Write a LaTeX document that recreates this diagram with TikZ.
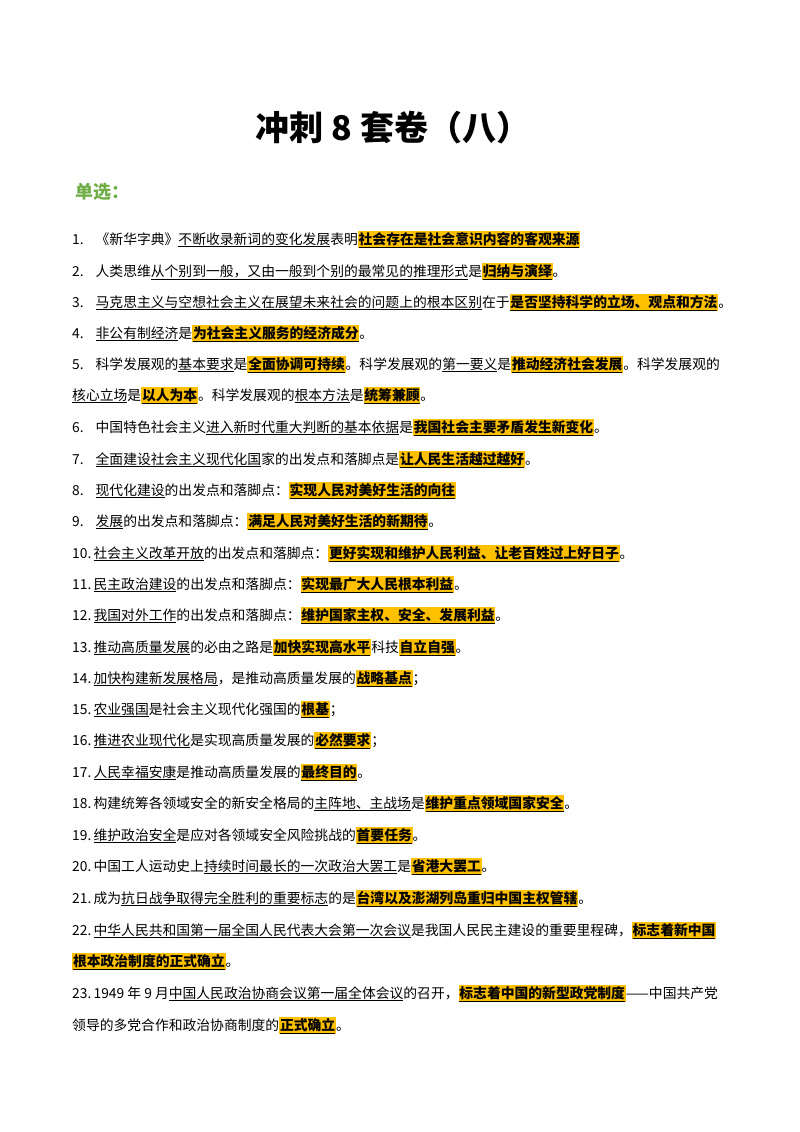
\documentclass[tikz,border=0pt]{standalone}
\usepackage{fontspec}
\setmainfont{Noto Sans CJK SC}
\definecolor{hl}{HTML}{FFC000}
\definecolor{grn}{HTML}{70AD47}
\newcommand{\ulx}[1]{\underline{#1}}
\newcommand{\hlt}[1]{{\setlength{\fboxsep}{0.8pt}\colorbox{hl}{\bfseries\underline{#1}}}}
\begin{document}
\begin{tikzpicture}[x=1pt,y=-1pt,
  ln/.style={anchor=base west,inner sep=0pt,font=\fontsize{13.8}{15}\selectfont}]
\useasboundingbox (0,0) rectangle (800,1132);
\node[font=\fontsize{34}{36}\bfseries] (title) at (393,128) {冲刺 8 套卷（八）};
\node[anchor=west,text=grn,font=\fontsize{18}{20}\bfseries] (dx) at (72,192) {单选：};
\node[ln] (n1) at (72,244) {1.\hspace{12pt}《新华字典》\ulx{不断收录新词的变化发展}表明\hlt{社会存在是社会意识内容的客观来源}};
\node[ln] (n2) at (72,276) {2.\hspace{12pt}人类思维\ulx{从个别到一般，又由一般到个别的最常见的推理形式}是\hlt{归纳与演绎}。};
\node[ln] (n3) at (72,307) {3.\hspace{12pt}\ulx{马克思主义与空想社会主义在展望未来社会的问题上的根本区别}在于\hlt{是否坚持科学的立场、观点和方法}。};
\node[ln] (n4) at (72,338) {4.\hspace{12pt}\ulx{非公有制经济}是\hlt{为社会主义服务的经济成分}。};
\node[ln] (n5) at (72,369) {5.\hspace{12pt}科学发展观的\ulx{基本要求}是\hlt{全面协调可持续}。科学发展观的\ulx{第一要义}是\hlt{推动经济社会发展}。科学发展观的};
\node[ln] (n5b) at (72,400) {\ulx{核心立场}是\hlt{以人为本}。科学发展观的\ulx{根本方法}是\hlt{统筹兼顾}。};
\node[ln] (n6) at (72,432) {6.\hspace{12pt}中国特色社会主义\ulx{进入新时代重大判断的基本依据}是\hlt{我国社会主要矛盾发生新变化}。};
\node[ln] (n7) at (72,464) {7.\hspace{12pt}\ulx{全面建设社会主义现代化国}家的出发点和落脚点是\hlt{让人民生活越过越好}。};
\node[ln] (n8) at (72,495) {8.\hspace{12pt}\ulx{现代化建设}的出发点和落脚点：\hlt{实现人民对美好生活的向往}};
\node[ln] (n9) at (72,526) {9.\hspace{12pt}\ulx{发展}的出发点和落脚点：\hlt{满足人民对美好生活的新期待}。};
\node[ln] (n10) at (72,558) {10.\,\ulx{社会主义改革开放}的出发点和落脚点：\hlt{更好实现和维护人民利益、让老百姓过上好日子}。};
\node[ln] (n11) at (72,589) {11.\,\ulx{民主政治建设}的出发点和落脚点：\hlt{实现最广大人民根本利益}。};
\node[ln] (n12) at (72,620) {12.\,\ulx{我国对外工作}的出发点和落脚点：\hlt{维护国家主权、安全、发展利益}。};
\node[ln] (n13) at (72,652) {13.\,\ulx{推动高质量发展}的必由之路是\hlt{加快实现高水平}科技\hlt{自立自强}。};
\node[ln] (n14) at (72,683) {14.\,\ulx{加快构建新发展格局}，是推动高质量发展的\hlt{战略基点}；};
\node[ln] (n15) at (72,714) {15.\,\ulx{农业强国}是社会主义现代化强国的\hlt{根基}；};
\node[ln] (n16) at (72,745) {16.\,\ulx{推进农业现代化}是实现高质量发展的\hlt{必然要求}；};
\node[ln] (n17) at (72,777) {17.\,\ulx{人民幸福安康}是推动高质量发展的\hlt{最终目的}。};
\node[ln] (n18) at (72,808) {18.\,构建统筹各领域安全的新安全格局的\ulx{主阵地、主战场}是\hlt{维护重点领域国家安全}。};
\node[ln] (n19) at (72,840) {19.\,\ulx{维护政治安全}是应对各领域安全风险挑战的\hlt{首要任务}。};
\node[ln] (n20) at (72,871) {20.\,中国工人运动史上\ulx{持续时间最长的一次政治大罢工}是\hlt{省港大罢工}。};
\node[ln] (n21) at (72,903) {21.\,成为\ulx{抗日战争取得完全胜利的重要标志}的是\hlt{台湾以及澎湖列岛重归中国主权管辖}。};
\node[ln] (n22) at (72,935) {22.\,\ulx{中华人民共和国第一届全国人民代表大会第一次会议}是我国人民民主建设的重要里程碑，\hlt{标志着新中国}};
\node[ln] (n22b) at (72,966) {\hlt{根本政治制度的正式确立}。};
\node[ln] (n23) at (72,998) {23.\,1949 年 9 月\ulx{中国人民政治协商会议第一届全体会议}的召开，\hlt{标志着中国的新型政党制度}——中国共产党};
\node[ln] (n23b) at (72,1030) {领导的多党合作和政治协商制度的\hlt{正式确立}。};
\end{tikzpicture}
\end{document}
